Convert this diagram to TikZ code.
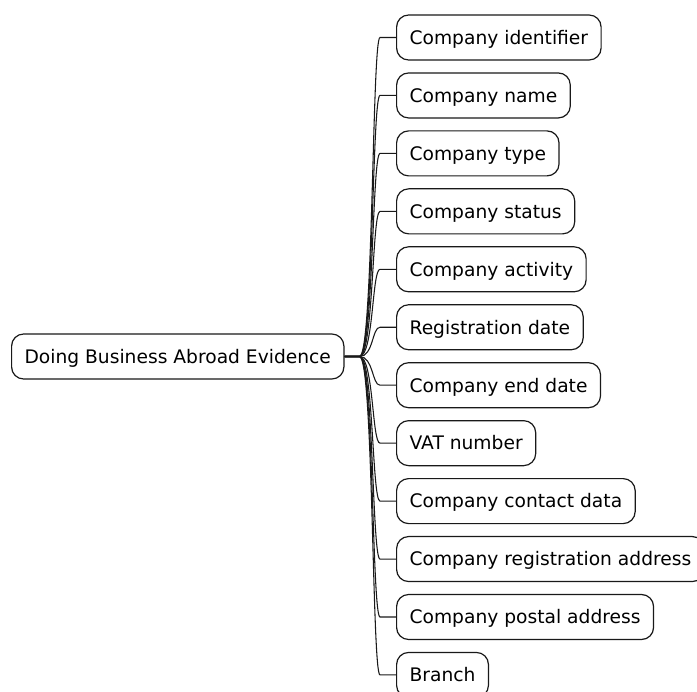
\documentclass[tikz,border=0pt]{standalone}
\usepackage{fontspec}
\setmainfont{DejaVu Sans}
\usetikzlibrary{positioning}

\begin{document}
\begin{tikzpicture}[x=0.75pt,y=-0.75pt,
  topic/.style={draw=black!90,line width=0.9pt,rounded corners=9pt,fill=white,
    minimum height=33.75pt,inner xsep=9.75pt,inner ysep=0pt,
    text height=10.2pt,text depth=0pt,font=\fontsize{14}{17}\selectfont,anchor=west},
  conn/.style={line width=0.8pt,black!90}]
  \useasboundingbox (0,0) rectangle (697,692);

  % Root topic
  \node[topic] (root) at (11,356.5) {Doing Business Abroad Evidence};

  % Leaves, one per row
  \foreach \txt [count=\i] in {Company identifier,Company name,Company type,
    Company status,Company activity,Registration date,Company end date,
    VAT number,Company contact data,Company registration address,
    Company postal address,Branch}{
    \node[topic] (c\i) at (396,{37.5+57.95*(\i-1)}) {\txt};
  }

  % Connectors from root to each leaf
  \foreach \i in {1,...,12}
    \draw[conn] (root.east) -- ++(11.25pt,0)
      .. controls +(10.5pt,0) and +(-6pt,0) .. ([xshift=-12pt]c\i.west) -- (c\i.west);
\end{tikzpicture}
\end{document}
